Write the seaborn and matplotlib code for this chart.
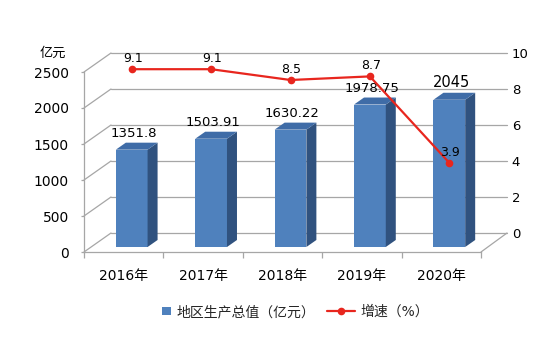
import numpy as np
import seaborn as sns
import matplotlib.pyplot as plt
from matplotlib.patches import Polygon, Rectangle
from matplotlib.lines import Line2D
from matplotlib.legend_handler import HandlerPatch

# 数据
years = ['2016年', '2017年', '2018年', '2019年', '2020年']
gdp = [1351.8, 1503.91, 1630.22, 1978.75, 2045]
gdp_labels = ['1351.8', '1503.91', '1630.22', '1978.75', '2045']
growth = [9.1, 9.1, 8.5, 8.7, 3.9]
left_ticks = [0, 500, 1000, 1500, 2000, 2500]
right_ticks = [0, 2, 4, 6, 8, 10]

sns.set_theme(style='white')
plt.rcParams['font.family'] = ['DejaVu Sans', 'Noto Sans CJK SC']

bar_front = '#4F81BD'
bar_top = '#3F6CA7'
bar_side = '#30527F'
red = '#E8261E'
grid_c = '#A6A6A6'

W, H = 554, 363
fig = plt.figure(figsize=(W / 100, H / 100), dpi=100)
fig.patch.set_facecolor('white')


def px_axes(left, top, width, height):
    ax = fig.add_axes([left / W, 1 - (top + height) / H, width / W, height / H])
    ax.patch.set_alpha(0)
    return ax


# 透视偏移（像素）
DX, DY = 27, 19      # 前面 -> 背墙
BX, BY = 8, 5        # 柱子所在深度
SX, SY = 10, 7       # 柱子厚度

ax_back = px_axes(84 + DX, 72 - DY, 396, 180)
ax_front = px_axes(84, 72, 397, 180)
ax_bar = px_axes(84 + BX, 72 - BY, 397, 180)
ax_line = px_axes(84 + BX, 72 - DY, 397, 180)

for a in (ax_back, ax_front, ax_bar, ax_line):
    a.set_xlim(-0.5, len(years) - 0.5)
    for s in a.spines.values():
        s.set_visible(False)

# 背墙网格 + 右轴
ax_back.set_ylim(0, 10)
ax_back.set_yticks(right_ticks)
ax_back.yaxis.tick_right()
ax_back.tick_params(axis='y', length=0, pad=3.5, labelsize=9.5, labelcolor='black')
ax_back.set_xticks([])
ax_back.grid(axis='y', color=grid_c, linewidth=0.9)
ax_back.set_axisbelow(True)
for gl in ax_back.get_ygridlines():
    gl.set_clip_on(False)

# 前面坐标轴
ax_front.set_ylim(0, 2500)
ax_front.set_yticks(left_ticks)
ax_front.spines['left'].set_visible(True)
ax_front.spines['bottom'].set_visible(True)
ax_front.spines['left'].set_color(grid_c)
ax_front.spines['bottom'].set_color(grid_c)
ax_front.spines['left'].set_linewidth(0.9)
ax_front.spines['bottom'].set_linewidth(0.9)
ax_front.tick_params(axis='y', left=True, length=2.5, width=0.9, color=grid_c,
                     pad=8.5, labelsize=10, labelcolor='black')
ax_front.set_xticks(range(len(years)))
ax_front.set_xticklabels(years)
ax_front.set_xticks(np.arange(-0.5, len(years)), minor=True)
ax_front.tick_params(axis='x', which='major', length=0, pad=12, labelsize=10, labelcolor='black')
ax_front.tick_params(axis='x', which='minor', bottom=True, length=4.3, width=0.9, color=grid_c)

# 侧墙斜线和地板边
to_fig = fig.transFigure.inverted()
for v in left_ticks:
    p0 = to_fig.transform(ax_front.transData.transform((-0.5, v)))
    p1 = to_fig.transform(ax_back.transData.transform((-0.5, v / 250)))
    ax_back.add_line(Line2D([p0[0], p1[0]], [p0[1], p1[1]], color=grid_c, lw=0.9,
                            transform=fig.transFigure, clip_on=False))
p0 = to_fig.transform(ax_front.transData.transform((len(years) - 0.5, 0)))
p1 = to_fig.transform(ax_back.transData.transform((len(years) - 0.5, 0)))
ax_back.add_line(Line2D([p0[0], p1[0]], [p0[1], p1[1]], color=grid_c, lw=0.9,
                        transform=fig.transFigure, clip_on=False))

# 柱子
ax_bar.set_ylim(0, 2500)
sns.barplot(x=years, y=gdp, ax=ax_bar, color=bar_front, saturation=1, width=0.4,
            linewidth=0)
ax_bar.set_xlim(-0.5, len(years) - 0.5)
ax_bar.set_xticks([])
ax_bar.set_yticks([])
ax_bar.set_xlabel('')
ax_bar.set_ylabel('')

for i, p in enumerate(list(ax_bar.patches)):
    x0, x1 = p.get_x(), p.get_x() + p.get_width()
    h = p.get_height()
    (ax0, ay0), (ax1, ay1) = ax_bar.transData.transform([(x0, 0), (x1, h)])
    side = [(ax1, ay0), (ax1 + SX, ay0 + SY), (ax1 + SX, ay1 + SY), (ax1, ay1)]
    top = [(ax0, ay1), (ax1, ay1), (ax1 + SX, ay1 + SY), (ax0 + SX, ay1 + SY)]
    for pts, c in ((side, bar_side), (top, bar_top)):
        ax_bar.add_patch(Polygon(to_fig.transform(pts), closed=True, facecolor=c,
                                 edgecolor='none', transform=fig.transFigure, clip_on=False))
    fs = 10.5 if i == len(years) - 1 else 9.5
    ax_bar.annotate(gdp_labels[i], xy=((x0 + x1) / 2, h), xytext=(2, 13),
                    textcoords='offset pixels', ha='center', va='baseline',
                    fontsize=fs, color='black', annotation_clip=False)

# 增速折线
ax_line.set_ylim(0, 10)
xs = np.arange(len(years))
sns.lineplot(x=xs, y=growth, ax=ax_line, color=red, linewidth=1.6, marker='o',
             markersize=5.5, markeredgewidth=0, sort=False)
ax_line.set_xlim(-0.5, len(years) - 0.5)
ax_line.set_xticks([])
ax_line.set_yticks([])
ax_line.set_xlabel('')
ax_line.set_ylabel('')
for x, v in zip(xs, growth):
    ax_line.annotate(f'{v}', xy=(x, v), xytext=(1, 7), textcoords='offset pixels',
                     ha='center', va='baseline', fontsize=9, color='black',
                     annotation_clip=False)

fig.text(53 / W, 1 - 53 / H, '亿元', ha='center', va='center', fontsize=9.5, color='black')


# 图例
def square_patch(legend, orig_handle, xdescent, ydescent, width, height, fontsize):
    s = 0.6 * fontsize
    return Rectangle((width - xdescent - s, -ydescent + (height - s) / 2), s, s)


bar_handle = Rectangle((0, 0), 1, 1, facecolor=bar_front, edgecolor='none')
line_handle = Line2D([], [], color=red, lw=1.6, marker='o', markersize=5.5, markeredgewidth=0)
fig.legend([bar_handle, line_handle], ['地区生产总值（亿元）', '增速（%）'],
           loc='center', bbox_to_anchor=(286 / W, 1 - 312 / H), ncol=2, frameon=False,
           fontsize=10, handlelength=2.0, handletextpad=0.4, columnspacing=0.9,
           handler_map={Rectangle: HandlerPatch(patch_func=square_patch)})

fig.savefig('out.png', dpi=100, facecolor='white')
